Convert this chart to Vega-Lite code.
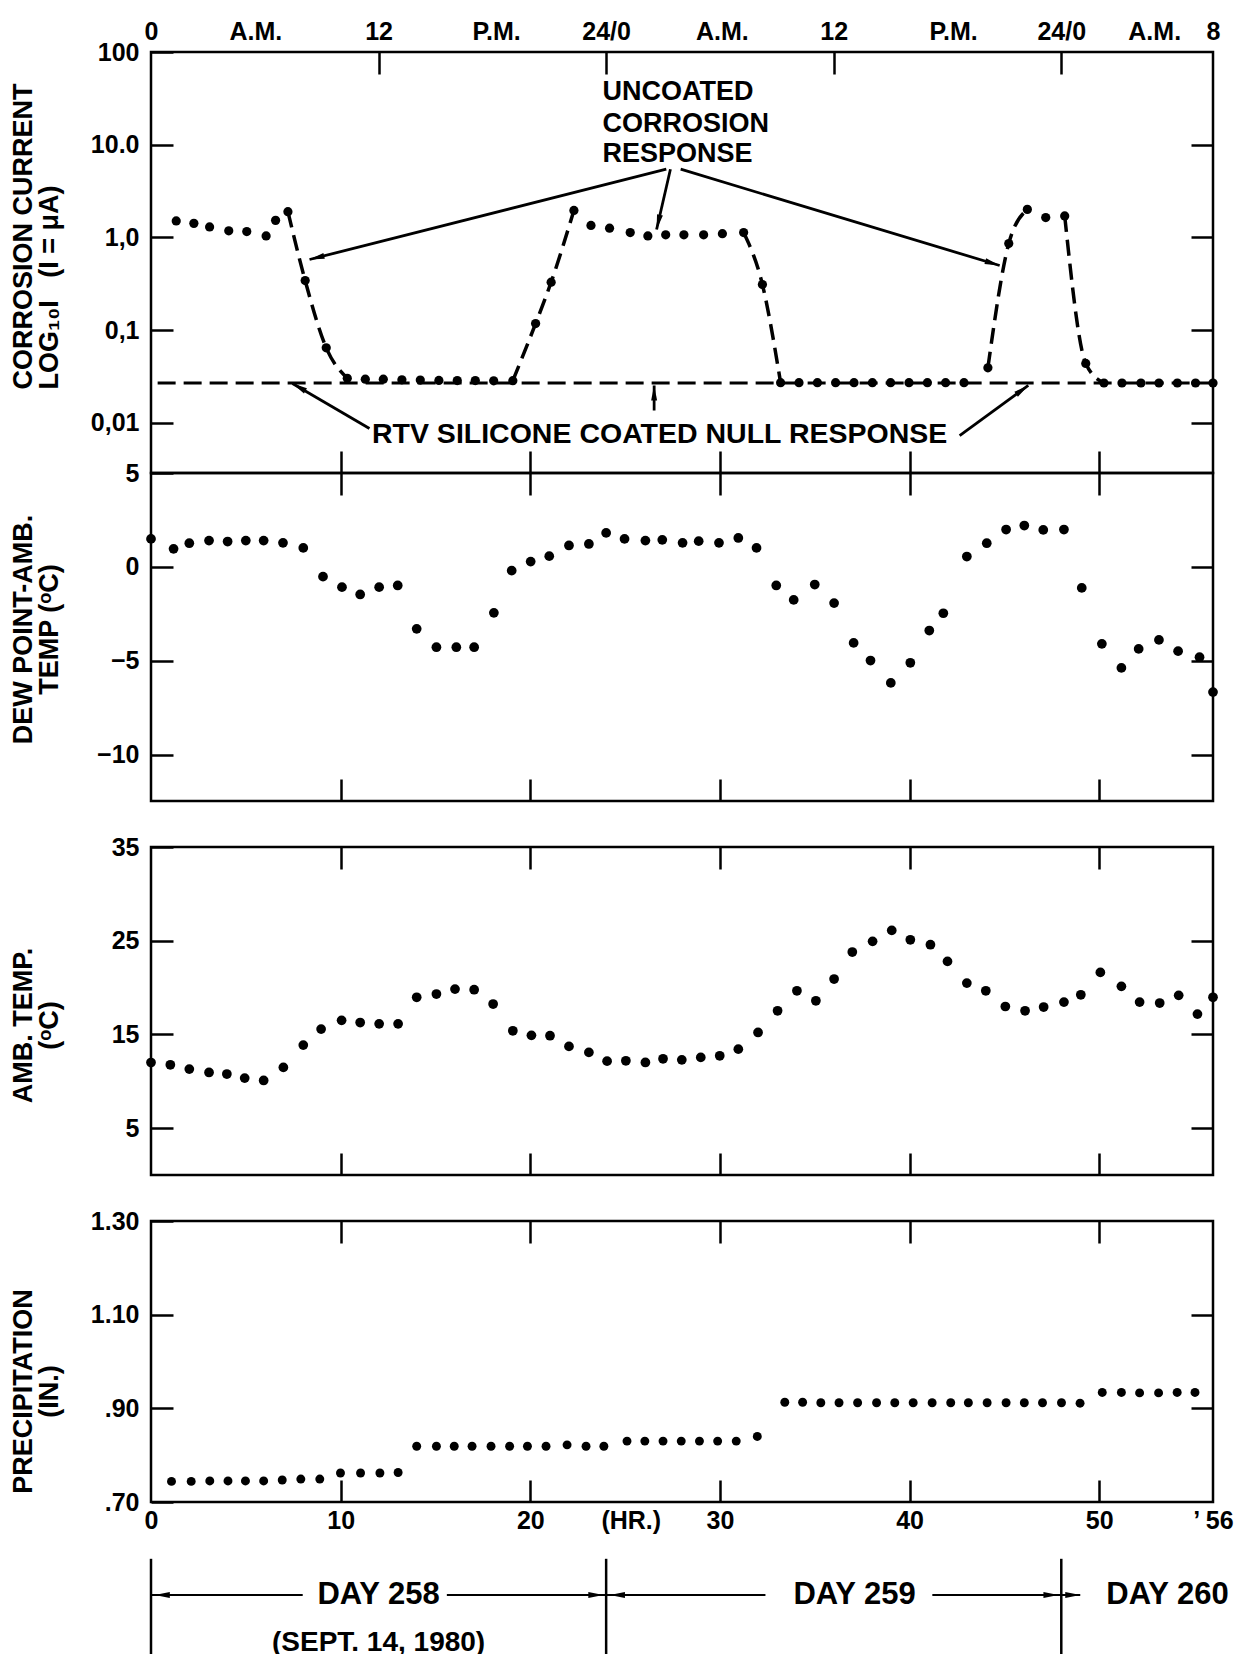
{
  "$schema": "https://vega.github.io/schema/vega-lite/v6.json",
  "background": "white",
  "padding": {"left": 7, "top": 17, "right": 0, "bottom": 0},
  "config": {
    "view": {"stroke": "#000", "strokeWidth": 2.5},
    "font": "Liberation Sans",
    "axis": {"domain": false, "grid": false, "tickColor": "#000", "tickWidth": 2.5, "tickSize": -22,
      "labelFont": "Liberation Sans", "labelFontSize": 25, "labelFontWeight": "bold", "labelColor": "#000",
      "labelOverlap": false, "labelFlush": false,
      "titleFont": "Liberation Sans", "titleFontSize": 27, "titleFontWeight": "bold", "titleColor": "#000", "titleLineHeight": 26}
  },
  "datasets": {
    "current": [
      {"hour": 1.33, "value": 1.51}, {"hour": 2.26, "value": 1.42}, {"hour": 3.09, "value": 1.30}, {"hour": 4.10, "value": 1.18},
      {"hour": 5.05, "value": 1.16}, {"hour": 6.07, "value": 1.04}, {"hour": 6.57, "value": 1.53}, {"hour": 7.22, "value": 1.90},
      {"hour": 8.13, "value": 0.343}, {"hour": 9.24, "value": 0.0646}, {"hour": 10.35, "value": 0.0303}, {"hour": 11.30, "value": 0.0297},
      {"hour": 12.25, "value": 0.0297}, {"hour": 13.23, "value": 0.0292}, {"hour": 14.20, "value": 0.029}, {"hour": 15.18, "value": 0.0288},
      {"hour": 16.15, "value": 0.0287}, {"hour": 17.10, "value": 0.0287}, {"hour": 18.07, "value": 0.0285}, {"hour": 19.08, "value": 0.0286},
      {"hour": 20.28, "value": 0.118}, {"hour": 21.10, "value": 0.33}, {"hour": 22.30, "value": 1.96}, {"hour": 23.20, "value": 1.35},
      {"hour": 24.18, "value": 1.26}, {"hour": 25.27, "value": 1.13}, {"hour": 26.20, "value": 1.04}, {"hour": 27.14, "value": 1.07},
      {"hour": 28.10, "value": 1.07}, {"hour": 29.14, "value": 1.07}, {"hour": 30.13, "value": 1.10}, {"hour": 31.25, "value": 1.13},
      {"hour": 32.24, "value": 0.311}, {"hour": 33.20, "value": 0.0272}, {"hour": 34.17, "value": 0.0272}, {"hour": 35.14, "value": 0.0272},
      {"hour": 36.10, "value": 0.0272}, {"hour": 37.07, "value": 0.0272}, {"hour": 38.04, "value": 0.0272}, {"hour": 39.00, "value": 0.0272},
      {"hour": 39.97, "value": 0.0272}, {"hour": 40.94, "value": 0.0272}, {"hour": 41.90, "value": 0.0272}, {"hour": 42.87, "value": 0.0272},
      {"hour": 44.13, "value": 0.0394}, {"hour": 45.23, "value": 0.86}, {"hour": 46.21, "value": 2.01}, {"hour": 47.18, "value": 1.64},
      {"hour": 48.18, "value": 1.71}, {"hour": 49.29, "value": 0.0439}, {"hour": 50.25, "value": 0.027}, {"hour": 51.20, "value": 0.027},
      {"hour": 52.20, "value": 0.027}, {"hour": 53.15, "value": 0.027}, {"hour": 54.12, "value": 0.027}, {"hour": 55.08, "value": 0.027},
      {"hour": 56.0, "value": 0.027}
    ],
    "curve": [
      {"seg": "A", "hour": 7.22, "value": 1.90}, {"seg": "A", "hour": 8.13, "value": 0.343}, {"seg": "A", "hour": 9.24, "value": 0.0646}, {"seg": "A", "hour": 10.35, "value": 0.0303},
      {"seg": "B", "hour": 19.08, "value": 0.0286}, {"seg": "B", "hour": 20.28, "value": 0.118}, {"seg": "B", "hour": 21.10, "value": 0.33}, {"seg": "B", "hour": 22.30, "value": 1.96},
      {"seg": "C", "hour": 31.25, "value": 1.13}, {"seg": "C", "hour": 32.24, "value": 0.311}, {"seg": "C", "hour": 33.20, "value": 0.0272},
      {"seg": "D", "hour": 44.13, "value": 0.0394}, {"seg": "D", "hour": 45.23, "value": 0.86}, {"seg": "D", "hour": 46.21, "value": 2.01},
      {"seg": "E", "hour": 48.18, "value": 1.71}, {"seg": "E", "hour": 49.29, "value": 0.0439}, {"seg": "E", "hour": 50.25, "value": 0.027}
    ],
    "nullline": [{"hour": 0.35, "value": 0.027}, {"hour": 56, "value": 0.027}],
    "arrows": [
      {"id": "a1", "hour": 27.17, "value": 5.45}, {"id": "a1", "hour": 8.36, "value": 0.579},
      {"id": "a2", "hour": 27.39, "value": 5.45}, {"id": "a2", "hour": 26.66, "value": 1.219},
      {"id": "a3", "hour": 27.93, "value": 5.45}, {"id": "a3", "hour": 44.75, "value": 0.499},
      {"id": "b1", "hour": 11.52, "value": 0.00873}, {"id": "b1", "hour": 7.46, "value": 0.0267},
      {"id": "b2", "hour": 26.53, "value": 0.01364}, {"id": "b2", "hour": 26.531, "value": 0.0254},
      {"id": "b3", "hour": 42.64, "value": 0.00733}, {"id": "b3", "hour": 46.26, "value": 0.0254}
    ],
    "heads": [
      {"id": "a1", "hour": 8.36, "value": 0.579}, {"id": "a2", "hour": 26.66, "value": 1.219}, {"id": "a3", "hour": 44.75, "value": 0.499},
      {"id": "b1", "hour": 7.46, "value": 0.0267}, {"id": "b2", "hour": 26.53, "value": 0.0254}, {"id": "b3", "hour": 46.26, "value": 0.0254}
    ],
    "notesL": [
      {"text": "UNCOATED", "hour": 23.81, "value": 36.6}, {"text": "CORROSION", "hour": 23.81, "value": 16.7}, {"text": "RESPONSE", "hour": 23.81, "value": 7.91}
    ],
    "notesC": [{"text": "RTV SILICONE COATED NULL RESPONSE", "hour": 26.82, "value": 0.0077}],
    "dew": [
      {"hour": 0, "value": 1.49}, {"hour": 1.19, "value": 0.96}, {"hour": 2.02, "value": 1.26}, {"hour": 3.06, "value": 1.4},
      {"hour": 4.04, "value": 1.35}, {"hour": 5.0, "value": 1.4}, {"hour": 5.94, "value": 1.4}, {"hour": 6.96, "value": 1.28},
      {"hour": 8.03, "value": 1.01}, {"hour": 9.07, "value": -0.52}, {"hour": 10.07, "value": -1.08}, {"hour": 11.03, "value": -1.47},
      {"hour": 12.03, "value": -1.08}, {"hour": 13.01, "value": -0.99}, {"hour": 14.01, "value": -3.3}, {"hour": 15.05, "value": -4.28},
      {"hour": 16.1, "value": -4.28}, {"hour": 17.04, "value": -4.28}, {"hour": 18.08, "value": -2.45}, {"hour": 19.02, "value": -0.2},
      {"hour": 20.02, "value": 0.28}, {"hour": 21.0, "value": 0.57}, {"hour": 22.04, "value": 1.14}, {"hour": 23.09, "value": 1.22},
      {"hour": 24.0, "value": 1.81}, {"hour": 24.97, "value": 1.49}, {"hour": 26.07, "value": 1.4}, {"hour": 26.96, "value": 1.44},
      {"hour": 28.03, "value": 1.28}, {"hour": 28.88, "value": 1.37}, {"hour": 29.95, "value": 1.28}, {"hour": 30.97, "value": 1.54},
      {"hour": 31.93, "value": 1.01}, {"hour": 32.97, "value": -0.99}, {"hour": 33.89, "value": -1.76}, {"hour": 35.0, "value": -0.94},
      {"hour": 36.02, "value": -1.93}, {"hour": 37.05, "value": -4.05}, {"hour": 37.94, "value": -4.99}, {"hour": 39.01, "value": -6.18},
      {"hour": 40.04, "value": -5.11}, {"hour": 41.04, "value": -3.39}, {"hour": 41.78, "value": -2.47}, {"hour": 43.02, "value": 0.55},
      {"hour": 44.07, "value": 1.26}, {"hour": 45.09, "value": 1.99}, {"hour": 46.05, "value": 2.2}, {"hour": 47.05, "value": 1.97},
      {"hour": 48.14, "value": 1.99}, {"hour": 49.08, "value": -1.12}, {"hour": 50.14, "value": -4.1}, {"hour": 51.17, "value": -5.38},
      {"hour": 52.08, "value": -4.37}, {"hour": 53.15, "value": -3.89}, {"hour": 54.16, "value": -4.49}, {"hour": 55.29, "value": -4.81},
      {"hour": 56.0, "value": -6.67}
    ],
    "amb": [
      {"hour": 0, "value": 12.0}, {"hour": 1.02, "value": 11.76}, {"hour": 2.02, "value": 11.3}, {"hour": 3.06, "value": 10.94},
      {"hour": 4.0, "value": 10.77}, {"hour": 4.94, "value": 10.34}, {"hour": 5.94, "value": 10.09}, {"hour": 6.98, "value": 11.48},
      {"hour": 8.03, "value": 13.86}, {"hour": 8.97, "value": 15.57}, {"hour": 10.05, "value": 16.5}, {"hour": 11.03, "value": 16.27},
      {"hour": 12.03, "value": 16.13}, {"hour": 13.03, "value": 16.13}, {"hour": 14.01, "value": 18.96}, {"hour": 15.05, "value": 19.31},
      {"hour": 16.03, "value": 19.84}, {"hour": 17.04, "value": 19.77}, {"hour": 18.04, "value": 18.24}, {"hour": 19.08, "value": 15.39},
      {"hour": 20.06, "value": 14.9}, {"hour": 21.04, "value": 14.86}, {"hour": 22.04, "value": 13.72}, {"hour": 23.09, "value": 13.08},
      {"hour": 24.05, "value": 12.15}, {"hour": 25.04, "value": 12.19}, {"hour": 26.07, "value": 12.01}, {"hour": 27.0, "value": 12.4},
      {"hour": 27.99, "value": 12.29}, {"hour": 28.99, "value": 12.55}, {"hour": 29.99, "value": 12.72}, {"hour": 30.97, "value": 13.43},
      {"hour": 32.01, "value": 15.21}, {"hour": 33.04, "value": 17.52}, {"hour": 34.06, "value": 19.66}, {"hour": 35.06, "value": 18.59},
      {"hour": 36.02, "value": 20.91}, {"hour": 36.98, "value": 23.79}, {"hour": 38.05, "value": 24.93}, {"hour": 39.06, "value": 26.1},
      {"hour": 40.04, "value": 25.1}, {"hour": 41.1, "value": 24.57}, {"hour": 42.0, "value": 22.79}, {"hour": 43.02, "value": 20.48},
      {"hour": 44.02, "value": 19.66}, {"hour": 45.05, "value": 17.98}, {"hour": 46.09, "value": 17.52}, {"hour": 47.07, "value": 17.92},
      {"hour": 48.14, "value": 18.45}, {"hour": 49.03, "value": 19.23}, {"hour": 50.06, "value": 21.62}, {"hour": 51.17, "value": 20.13},
      {"hour": 52.13, "value": 18.45}, {"hour": 53.19, "value": 18.35}, {"hour": 54.19, "value": 19.17}, {"hour": 55.18, "value": 17.17},
      {"hour": 56.0, "value": 18.96}
    ],
    "precip": [
      {"hour": 1.08, "value": 0.744}, {"hour": 2.12, "value": 0.744}, {"hour": 3.1, "value": 0.745}, {"hour": 4.06, "value": 0.745},
      {"hour": 4.98, "value": 0.745}, {"hour": 5.94, "value": 0.745}, {"hour": 6.92, "value": 0.747}, {"hour": 7.9, "value": 0.749},
      {"hour": 8.9, "value": 0.749}, {"hour": 9.99, "value": 0.762}, {"hour": 11.05, "value": 0.762}, {"hour": 12.07, "value": 0.762},
      {"hour": 13.03, "value": 0.763}, {"hour": 14.01, "value": 0.819}, {"hour": 15.05, "value": 0.819}, {"hour": 15.99, "value": 0.819},
      {"hour": 16.93, "value": 0.819}, {"hour": 17.93, "value": 0.819}, {"hour": 18.91, "value": 0.819}, {"hour": 19.85, "value": 0.819},
      {"hour": 20.83, "value": 0.819}, {"hour": 21.94, "value": 0.822}, {"hour": 22.94, "value": 0.819}, {"hour": 23.88, "value": 0.819},
      {"hour": 25.1, "value": 0.83}, {"hour": 26.04, "value": 0.83}, {"hour": 27.0, "value": 0.83}, {"hour": 27.96, "value": 0.83},
      {"hour": 28.92, "value": 0.83}, {"hour": 29.88, "value": 0.83}, {"hour": 30.86, "value": 0.83}, {"hour": 31.97, "value": 0.84},
      {"hour": 33.42, "value": 0.913}, {"hour": 34.36, "value": 0.913}, {"hour": 35.32, "value": 0.912}, {"hour": 36.28, "value": 0.912},
      {"hour": 37.26, "value": 0.912}, {"hour": 38.26, "value": 0.912}, {"hour": 39.22, "value": 0.912}, {"hour": 40.19, "value": 0.912},
      {"hour": 41.19, "value": 0.912}, {"hour": 42.17, "value": 0.912}, {"hour": 43.1, "value": 0.912}, {"hour": 44.09, "value": 0.912},
      {"hour": 45.09, "value": 0.912}, {"hour": 46.05, "value": 0.912}, {"hour": 47.01, "value": 0.912}, {"hour": 48.01, "value": 0.912},
      {"hour": 48.99, "value": 0.911}, {"hour": 50.16, "value": 0.934}, {"hour": 51.17, "value": 0.934}, {"hour": 52.13, "value": 0.933},
      {"hour": 53.13, "value": 0.933}, {"hour": 54.11, "value": 0.934}, {"hour": 55.05, "value": 0.934}
    ],
    "daylines": [{"hour": 0}, {"hour": 24}, {"hour": 48}],
    "spans": [{"start": 0, "end": 8.0}, {"start": 15.6, "end": 32.4}, {"start": 41.2, "end": 49.0}],
    "stripheads": [{"hour": 0.2, "dir": "L"}, {"hour": 23.85, "dir": "R"}, {"hour": 24.2, "dir": "L"}, {"hour": 47.85, "dir": "R"}, {"hour": 49.0, "dir": "R"}],
    "days": [{"label": "DAY 258", "hour": 12.0}, {"label": "DAY 259", "hour": 37.1}, {"label": "DAY 260", "hour": 53.6}],
    "date": [{"label": "(SEPT. 14, 1980)", "hour": 12.0}],
    "blank": [{"hour": 0}]
  },
  "vconcat": [
    {
      "width": 1062, "height": 421,
      "layer": [
        {
          "data": {"name": "nullline"},
          "mark": {"type": "line", "color": "#000", "strokeWidth": 3, "strokeDash": [18, 8]},
          "encoding": {
            "x": {"field": "hour", "type": "quantitative", "scale": {"domain": [0, 56], "nice": false},
              "axis": {"orient": "top", "title": null, "values": [0, 5.5, 12, 18.2, 24, 30.1, 36, 42.3, 48, 52.9, 56],
                "labelExpr": "datum.value==5.5?'A.M.':datum.value==18.2?'P.M.':datum.value==24?'24/0':datum.value==30.1?'A.M.':datum.value==36?'12':datum.value==42.3?'P.M.':datum.value==48?'24/0':datum.value==52.9?'A.M.':datum.value==56?'8':datum.label",
                "tickOpacity": {"condition": {"test": "datum.value==12||datum.value==24||datum.value==36||datum.value==48", "value": 1}, "value": 0},
                "labelPadding": 30}},
            "y": {"field": "value", "type": "quantitative", "scale": {"type": "log", "domain": [0.00289, 100], "nice": false},
              "axis": {"orient": "left", "values": [0.01, 0.1, 1, 10, 100],
                "labelExpr": "datum.value==100?'100':datum.value==10?'10.0':datum.value==1?'1,0':datum.value==0.1?'0,1':'0,01'",
                "labelPadding": 34,
                "title": ["CORROSION CURRENT", "LOG\u2081\u2080I\u00a0\u00a0\u00a0(I = \u03bcA)"], "titleX": -114, "titleY": 337, "titleAlign": "left", "titleAngle": 270, "titleBaseline": "bottom"}}
          }
        },
        {
          "data": {"name": "curve"},
          "mark": {"type": "line", "color": "#000", "strokeWidth": 3.5, "strokeDash": [16, 8], "interpolate": "monotone"},
          "encoding": {
            "x": {"field": "hour", "type": "quantitative", "scale": {"domain": [0, 56], "nice": false},
              "axis": {"orient": "bottom", "title": null, "values": [10, 20, 30, 40, 50], "labels": false}},
            "y": {"field": "value", "type": "quantitative", "scale": {"type": "log", "domain": [0.00289, 100], "nice": false},
              "axis": {"orient": "right", "title": null, "values": [0.01, 0.1, 1, 10], "labels": false}},
            "detail": {"field": "seg"}
          }
        },
        {
          "data": {"name": "current"},
          "mark": {"type": "point", "filled": true, "color": "#000", "size": 85, "opacity": 1},
          "encoding": {
            "x": {"field": "hour", "type": "quantitative", "scale": {"domain": [0, 56], "nice": false}, "axis": null},
            "y": {"field": "value", "type": "quantitative", "scale": {"type": "log", "domain": [0.00289, 100], "nice": false}, "axis": null}
          }
        },
        {
          "data": {"name": "arrows"},
          "mark": {"type": "line", "color": "#000", "strokeWidth": 2.8},
          "encoding": {
            "x": {"field": "hour", "type": "quantitative", "scale": {"domain": [0, 56], "nice": false}, "axis": null},
            "y": {"field": "value", "type": "quantitative", "scale": {"type": "log", "domain": [0.00289, 100], "nice": false}, "axis": null},
            "detail": {"field": "id"}
          }
        },
        {"data": {"name": "heads"}, "transform": [{"filter": "datum.id=='a1'"}],
          "mark": {"type": "point", "shape": "M0,0L1,5L-1,5Z", "filled": true, "color": "#000", "size": 36, "opacity": 1, "angle": 256},
          "encoding": {"x": {"field": "hour", "type": "quantitative", "scale": {"domain": [0, 56], "nice": false}, "axis": null},
            "y": {"field": "value", "type": "quantitative", "scale": {"type": "log", "domain": [0.00289, 100], "nice": false}, "axis": null}}},
        {"data": {"name": "heads"}, "transform": [{"filter": "datum.id=='a2'"}],
          "mark": {"type": "point", "shape": "M0,0L1,5L-1,5Z", "filled": true, "color": "#000", "size": 36, "opacity": 1, "angle": 193},
          "encoding": {"x": {"field": "hour", "type": "quantitative", "scale": {"domain": [0, 56], "nice": false}, "axis": null},
            "y": {"field": "value", "type": "quantitative", "scale": {"type": "log", "domain": [0.00289, 100], "nice": false}, "axis": null}}},
        {"data": {"name": "heads"}, "transform": [{"filter": "datum.id=='a3'"}],
          "mark": {"type": "point", "shape": "M0,0L1,5L-1,5Z", "filled": true, "color": "#000", "size": 36, "opacity": 1, "angle": 107},
          "encoding": {"x": {"field": "hour", "type": "quantitative", "scale": {"domain": [0, 56], "nice": false}, "axis": null},
            "y": {"field": "value", "type": "quantitative", "scale": {"type": "log", "domain": [0.00289, 100], "nice": false}, "axis": null}}},
        {"data": {"name": "heads"}, "transform": [{"filter": "datum.id=='b1'"}],
          "mark": {"type": "point", "shape": "M0,0L1,5L-1,5Z", "filled": true, "color": "#000", "size": 36, "opacity": 1, "angle": 300},
          "encoding": {"x": {"field": "hour", "type": "quantitative", "scale": {"domain": [0, 56], "nice": false}, "axis": null},
            "y": {"field": "value", "type": "quantitative", "scale": {"type": "log", "domain": [0.00289, 100], "nice": false}, "axis": null}}},
        {"data": {"name": "heads"}, "transform": [{"filter": "datum.id=='b2'"}],
          "mark": {"type": "point", "shape": "M0,0L1,5L-1,5Z", "filled": true, "color": "#000", "size": 36, "opacity": 1, "angle": 0},
          "encoding": {"x": {"field": "hour", "type": "quantitative", "scale": {"domain": [0, 56], "nice": false}, "axis": null},
            "y": {"field": "value", "type": "quantitative", "scale": {"type": "log", "domain": [0.00289, 100], "nice": false}, "axis": null}}},
        {"data": {"name": "heads"}, "transform": [{"filter": "datum.id=='b3'"}],
          "mark": {"type": "point", "shape": "M0,0L1,5L-1,5Z", "filled": true, "color": "#000", "size": 36, "opacity": 1, "angle": 54},
          "encoding": {"x": {"field": "hour", "type": "quantitative", "scale": {"domain": [0, 56], "nice": false}, "axis": null},
            "y": {"field": "value", "type": "quantitative", "scale": {"type": "log", "domain": [0.00289, 100], "nice": false}, "axis": null}}},
        {
          "data": {"name": "notesL"},
          "mark": {"type": "text", "align": "left", "baseline": "middle", "font": "Liberation Sans", "fontSize": 27, "fontWeight": "bold", "color": "#000"},
          "encoding": {
            "x": {"field": "hour", "type": "quantitative", "scale": {"domain": [0, 56], "nice": false}, "axis": null},
            "y": {"field": "value", "type": "quantitative", "scale": {"type": "log", "domain": [0.00289, 100], "nice": false}, "axis": null},
            "text": {"field": "text"}
          }
        },
        {
          "data": {"name": "notesC"},
          "mark": {"type": "text", "align": "center", "baseline": "middle", "font": "Liberation Sans", "fontSize": 28.5, "fontWeight": "bold", "color": "#000"},
          "encoding": {
            "x": {"field": "hour", "type": "quantitative", "scale": {"domain": [0, 56], "nice": false}, "axis": null},
            "y": {"field": "value", "type": "quantitative", "scale": {"type": "log", "domain": [0.00289, 100], "nice": false}, "axis": null},
            "text": {"field": "text"}
          }
        }
      ],
      "resolve": {"axis": {"x": "independent", "y": "independent"}}
    },
    {
      "width": 1062, "height": 328,
      "layer": [
        {
          "data": {"name": "dew"},
          "mark": {"type": "point", "filled": true, "color": "#000", "size": 95, "opacity": 1},
          "encoding": {
            "x": {"field": "hour", "type": "quantitative", "scale": {"domain": [0, 56], "nice": false},
              "axis": {"orient": "bottom", "title": null, "values": [10, 20, 30, 40, 50], "labels": false}},
            "y": {"field": "value", "type": "quantitative", "scale": {"domain": [-12.47, 5], "nice": false, "zero": false},
              "axis": {"orient": "left", "values": [5, 0, -5, -10], "labelPadding": 34,
                "title": ["DEW POINT-AMB.", "TEMP (\u1d52C)"], "titleX": -114, "titleY": 156, "titleAngle": 270, "titleBaseline": "bottom"}}
          }
        },
        {
          "data": {"name": "dew"},
          "mark": {"type": "point", "filled": true, "color": "#000", "size": 95, "opacity": 0},
          "encoding": {
            "x": {"field": "hour", "type": "quantitative", "scale": {"domain": [0, 56], "nice": false},
              "axis": {"orient": "top", "title": null, "values": [10, 20, 30, 40, 50], "labels": false}},
            "y": {"field": "value", "type": "quantitative", "scale": {"domain": [-12.47, 5], "nice": false, "zero": false},
              "axis": {"orient": "right", "title": null, "values": [0, -5, -10], "labels": false}}
          }
        }
      ],
      "resolve": {"axis": {"x": "independent", "y": "independent"}}
    },
    {
      "width": 1062, "height": 46, "view": {"stroke": null},
      "data": {"name": "blank"},
      "mark": {"type": "point", "opacity": 0},
      "encoding": {}
    },
    {
      "width": 1062, "height": 328,
      "layer": [
        {
          "data": {"name": "amb"},
          "mark": {"type": "point", "filled": true, "color": "#000", "size": 95, "opacity": 1},
          "encoding": {
            "x": {"field": "hour", "type": "quantitative", "scale": {"domain": [0, 56], "nice": false},
              "axis": {"orient": "bottom", "title": null, "values": [10, 20, 30, 40, 50], "labels": false}},
            "y": {"field": "value", "type": "quantitative", "scale": {"domain": [0, 35], "nice": false},
              "axis": {"orient": "left", "values": [35, 25, 15, 5], "labelPadding": 34,
                "title": ["AMB. TEMP.", "(\u1d52C)"], "titleX": -114, "titleY": 178, "titleAngle": 270, "titleBaseline": "bottom"}}
          }
        },
        {
          "data": {"name": "amb"},
          "mark": {"type": "point", "filled": true, "color": "#000", "size": 95, "opacity": 0},
          "encoding": {
            "x": {"field": "hour", "type": "quantitative", "scale": {"domain": [0, 56], "nice": false},
              "axis": {"orient": "top", "title": null, "values": [10, 20, 30, 40, 50], "labels": false}},
            "y": {"field": "value", "type": "quantitative", "scale": {"domain": [0, 35], "nice": false},
              "axis": {"orient": "right", "title": null, "values": [25, 15, 5], "labels": false}}
          }
        }
      ],
      "resolve": {"axis": {"x": "independent", "y": "independent"}}
    },
    {
      "width": 1062, "height": 46, "view": {"stroke": null},
      "data": {"name": "blank"},
      "mark": {"type": "point", "opacity": 0},
      "encoding": {}
    },
    {
      "width": 1062, "height": 281,
      "layer": [
        {
          "data": {"name": "precip"},
          "mark": {"type": "point", "filled": true, "color": "#000", "size": 80, "opacity": 1},
          "encoding": {
            "x": {"field": "hour", "type": "quantitative", "scale": {"domain": [0, 56], "nice": false},
              "axis": {"orient": "bottom", "title": null, "values": [0, 10, 20, 25.3, 30, 40, 50, 56],
                "labelExpr": "datum.value==25.3?'(HR.)':datum.value==56?'\u2019 56':datum.label",
                "tickOpacity": {"condition": {"test": "datum.value>=10&&datum.value<=50&&datum.value!=25.3", "value": 1}, "value": 0},
                "labelPadding": 28}},
            "y": {"field": "value", "type": "quantitative", "scale": {"domain": [0.7, 1.3], "nice": false, "zero": false},
              "axis": {"orient": "left", "values": [1.3, 1.1, 0.9, 0.7], "labelPadding": 34,
                "labelExpr": "datum.value==1.3?'1.30':datum.value==1.1?'1.10':datum.value==0.9?'.90':'.70'",
                "title": ["PRECIPITATION", "(IN.)"], "titleX": -114, "titleY": 170, "titleAngle": 270, "titleBaseline": "bottom"}}
          }
        },
        {
          "data": {"name": "precip"},
          "mark": {"type": "point", "filled": true, "color": "#000", "size": 80, "opacity": 0},
          "encoding": {
            "x": {"field": "hour", "type": "quantitative", "scale": {"domain": [0, 56], "nice": false},
              "axis": {"orient": "top", "title": null, "values": [10, 20, 30, 40, 50], "labels": false}},
            "y": {"field": "value", "type": "quantitative", "scale": {"domain": [0.7, 1.3], "nice": false, "zero": false},
              "axis": {"orient": "right", "title": null, "values": [1.1, 0.9], "labels": false}}
          }
        }
      ],
      "resolve": {"axis": {"x": "independent", "y": "independent"}}
    },
    {
      "width": 1062, "height": 46, "view": {"stroke": null},
      "data": {"name": "blank"},
      "mark": {"type": "point", "opacity": 0},
      "encoding": {}
    },
    {
      "width": 1062, "height": 108,
      "view": {"stroke": null},
      "layer": [
        {
          "data": {"name": "daylines"},
          "mark": {"type": "rule", "color": "#000", "strokeWidth": 2.5},
          "encoding": {
            "x": {"field": "hour", "type": "quantitative", "scale": {"domain": [0, 56], "nice": false}, "axis": null},
            "y": {"datum": 0.01, "type": "quantitative", "scale": {"domain": [0, 1], "nice": false}, "axis": null},
            "y2": {"datum": 0.9}
          }
        },
        {
          "data": {"name": "spans"},
          "mark": {"type": "rule", "color": "#000", "strokeWidth": 2.2},
          "encoding": {
            "x": {"field": "start", "type": "quantitative", "scale": {"domain": [0, 56], "nice": false}, "axis": null},
            "x2": {"field": "end"},
            "y": {"datum": 0.565, "type": "quantitative", "scale": {"domain": [0, 1], "nice": false}, "axis": null}
          }
        },
        {
          "data": {"name": "stripheads"}, "transform": [{"filter": "datum.dir=='L'"}],
          "mark": {"type": "point", "shape": "M0,0L1,5L-1,5Z", "filled": true, "color": "#000", "size": 36, "opacity": 1, "angle": 270},
          "encoding": {
            "x": {"field": "hour", "type": "quantitative", "scale": {"domain": [0, 56], "nice": false}, "axis": null},
            "y": {"datum": 0.565, "type": "quantitative", "scale": {"domain": [0, 1], "nice": false}, "axis": null}
          }
        },
        {
          "data": {"name": "stripheads"}, "transform": [{"filter": "datum.dir=='R'"}],
          "mark": {"type": "point", "shape": "M0,0L1,5L-1,5Z", "filled": true, "color": "#000", "size": 36, "opacity": 1, "angle": 90},
          "encoding": {
            "x": {"field": "hour", "type": "quantitative", "scale": {"domain": [0, 56], "nice": false}, "axis": null},
            "y": {"datum": 0.565, "type": "quantitative", "scale": {"domain": [0, 1], "nice": false}, "axis": null}
          }
        },
        {
          "data": {"name": "days"},
          "mark": {"type": "text", "align": "center", "baseline": "middle", "font": "Liberation Sans", "fontSize": 31, "fontWeight": "bold", "color": "#000"},
          "encoding": {
            "x": {"field": "hour", "type": "quantitative", "scale": {"domain": [0, 56], "nice": false}, "axis": null},
            "y": {"datum": 0.565, "type": "quantitative", "scale": {"domain": [0, 1], "nice": false}, "axis": null},
            "text": {"field": "label"}
          }
        },
        {
          "data": {"name": "date"},
          "mark": {"type": "text", "align": "center", "baseline": "middle", "font": "Liberation Sans", "fontSize": 28, "fontWeight": "bold", "color": "#000"},
          "encoding": {
            "x": {"field": "hour", "type": "quantitative", "scale": {"domain": [0, 56], "nice": false}, "axis": null},
            "y": {"datum": 0.12, "type": "quantitative", "scale": {"domain": [0, 1], "nice": false}, "axis": null},
            "text": {"field": "label"}
          }
        }
      ]
    }
  ],
  "spacing": 0,
  "bounds": "flush"
}
